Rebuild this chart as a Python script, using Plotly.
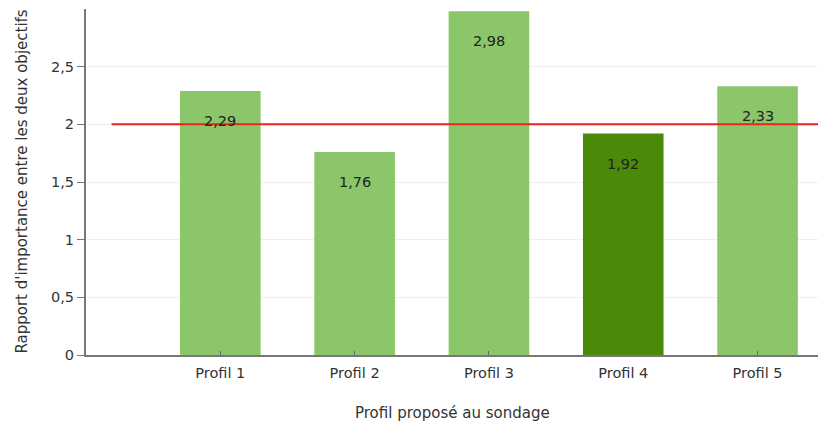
import plotly.graph_objects as go

categories = ["Profil 1", "Profil 2", "Profil 3", "Profil 4", "Profil 5"]
values = [2.29, 1.76, 2.98, 1.92, 2.33]
value_labels = ["2,29", "1,76", "2,98", "1,92", "2,33"]
highlight = [False, False, False, True, False]
reference_level = 2
y_ticks = [0, 0.5, 1, 1.5, 2, 2.5]
y_tick_labels = ["0", "0,5", "1", "1,5", "2", "2,5"]

LIGHT = "#8cc66a"
DARK = "#4b8a08"
FONT = "DejaVu Sans"
TICK_SIZE = 14.5
TITLE_SIZE = 15

positions = list(range(1, len(categories) + 1))
colors = [DARK if h else LIGHT for h in highlight]

fig = go.Figure()
fig.add_trace(go.Bar(
    x=positions, y=values, width=0.6,
    marker=dict(color=colors, line=dict(width=0)),
    hoverinfo="skip",
))

# value labels just below the top of each bar
for x, v, t in zip(positions, values, value_labels):
    fig.add_annotation(x=x, y=v, text=t, showarrow=False, yshift=-30,
                       yanchor="middle", font=dict(family=FONT, size=TICK_SIZE, color="#222"))

# reference line at the target ratio
fig.add_shape(type="line", xref="x", yref="y", x0=0.19, x1=5.45,
              y0=reference_level, y1=reference_level,
              line=dict(color="#e8241c", width=2))

fig.add_annotation(xref="paper", yref="paper", x=0.5, y=-0.168, yanchor="middle",
                   text="Profil proposé au sondage", showarrow=False,
                   font=dict(family=FONT, size=TITLE_SIZE, color="#333"))
fig.add_annotation(xref="paper", yref="paper", x=-0.088, y=0.5, textangle=-90,
                   xanchor="center", yanchor="middle",
                   text="Rapport d'importance entre les deux objectifs", showarrow=False,
                   font=dict(family=FONT, size=TITLE_SIZE, color="#333"))

fig.update_layout(
    width=818, height=429,
    margin=dict(l=86, r=0, t=9, b=74),
    plot_bgcolor="white", paper_bgcolor="white",
    showlegend=False,
    font=dict(family=FONT, size=TICK_SIZE, color="#333"),
    xaxis=dict(range=[0, 5.45], tickvals=positions, ticktext=categories,
               showgrid=False, zeroline=False, showline=True, linecolor="#777",
               linewidth=2, ticks="inside", ticklen=4, tickcolor="#666",
               ticklabelstandoff=4,
               tickfont=dict(family=FONT, size=TICK_SIZE, color="#333")),
    yaxis=dict(range=[0, 3], tickvals=y_ticks, ticktext=y_tick_labels,
               showgrid=True, gridcolor="#eeeeee", gridwidth=1, zeroline=False,
               showline=True, linecolor="#777", linewidth=2,
               ticks="outside", ticklen=7, tickcolor="#777",
               tickfont=dict(family=FONT, size=TICK_SIZE, color="#333")),
)

fig.write_html("out.html")
